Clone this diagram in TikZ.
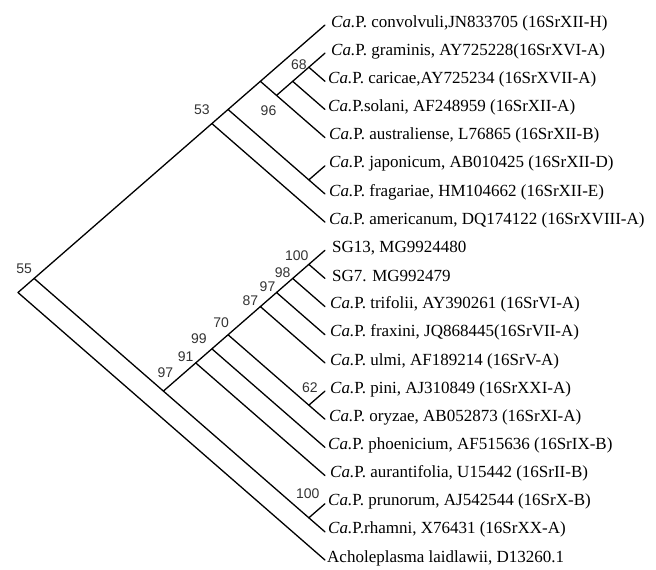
\documentclass[tikz,border=0pt]{standalone}
\usepackage{fontspec}
\setmainfont{Liberation Serif}
\newfontfamily\bsfont{Liberation Sans}
\usetikzlibrary{calc,positioning}
\newcommand{\CaP}{\textit{Ca.}P.}

\begin{document}
\begin{tikzpicture}[x=1pt,y=-1pt,
    branch/.style={line width=1.3pt,line cap=round,line join=round},
    leaf/.style={anchor=west,inner sep=0pt,font=\fontsize{17}{18}\selectfont},
    boot/.style={inner sep=0pt,text=black!80,font=\bsfont\fontsize{14}{14}\selectfont}]
  \def\tx{325}
  \def\ty{25}
  \def\dy{28.16}
  \def\hx{16.16}
  \useasboundingbox (0,0) rectangle (656,570);
  % tips
  \coordinate (t1) at (\tx,{\ty+0*\dy});
  \coordinate (t2) at (\tx,{\ty+1*\dy});
  \coordinate (t3) at (\tx,{\ty+2*\dy});
  \coordinate (t4) at (\tx,{\ty+3*\dy});
  \coordinate (t5) at (\tx,{\ty+4*\dy});
  \coordinate (t6) at (\tx,{\ty+5*\dy});
  \coordinate (t7) at (\tx,{\ty+6*\dy});
  \coordinate (t8) at (\tx,{\ty+7*\dy});
  \coordinate (t9) at (\tx,{\ty+8*\dy});
  \coordinate (t10) at (\tx,{\ty+9*\dy});
  \coordinate (t11) at (\tx,{\ty+10*\dy});
  \coordinate (t12) at (\tx,{\ty+11*\dy});
  \coordinate (t13) at (\tx,{\ty+12*\dy});
  \coordinate (t14) at (\tx,{\ty+13*\dy});
  \coordinate (t15) at (\tx,{\ty+14*\dy});
  \coordinate (t16) at (\tx,{\ty+15*\dy});
  \coordinate (t17) at (\tx,{\ty+16*\dy});
  \coordinate (t18) at (\tx,{\ty+17*\dy});
  \coordinate (t19) at (\tx,{\ty+18*\dy});
  \coordinate (t20) at (\tx,{\ty+19*\dy});
  % taxa
  \node[leaf] (l1) at ($(t1)+(6,-2)$) {\CaP\ convolvuli,JN833705 (16SrXII-H)};
  \node[leaf] (l2) at ($(t2)+(6,-2)$) {\CaP\ graminis, AY725228(16SrXVI-A)};
  \node[leaf] (l3) at ($(t3)+(3,-2)$) {\CaP\ caricae,AY725234 (16SrXVII-A)};
  \node[leaf] (l4) at ($(t4)+(3,-2)$) {\CaP solani, AF248959 (16SrXII-A)};
  \node[leaf] (l5) at ($(t5)+(4,-2)$) {\CaP\ australiense, L76865 (16SrXII-B)};
  \node[leaf] (l6) at ($(t6)+(4,-2)$) {\CaP\ japonicum, AB010425 (16SrXII-D)};
  \node[leaf] (l7) at ($(t7)+(4,-2)$) {\CaP\ fragariae, HM104662 (16SrXII-E)};
  \node[leaf] (l8) at ($(t8)+(4,-2)$) {\CaP\ americanum, DQ174122 (16SrXVIII-A)};
  \node[leaf] (l9) at ($(t9)+(7,-2)$) {SG13, MG9924480};
  \node[leaf] (l10) at ($(t10)+(7,-2)$) {SG7. MG992479};
  \node[leaf] (l11) at ($(t11)+(5,-2)$) {\CaP\ trifolii, AY390261 (16SrVI-A)};
  \node[leaf] (l12) at ($(t12)+(5,-2)$) {\CaP\ fraxini, JQ868445(16SrVII-A)};
  \node[leaf] (l13) at ($(t13)+(5,-2)$) {\CaP\ ulmi, AF189214 (16SrV-A)};
  \node[leaf] (l14) at ($(t14)+(5,-2)$) {\CaP\ pini, AJ310849 (16SrXXI-A)};
  \node[leaf] (l15) at ($(t15)+(4,-2)$) {\CaP\ oryzae, AB052873 (16SrXI-A)};
  \node[leaf] (l16) at ($(t16)+(3,-2)$) {\CaP\ phoenicium, AF515636 (16SrIX-B)};
  \node[leaf] (l17) at ($(t17)+(5,-2)$) {\CaP\ aurantifolia, U15442 (16SrII-B)};
  \node[leaf] (l18) at ($(t18)+(3,-2)$) {\CaP\ prunorum, AJ542544 (16SrX-B)};
  \node[leaf] (l19) at ($(t19)+(3,-2)$) {\CaP rhamni, X76431 (16SrXX-A)};
  \node[leaf] (l20) at ($(t20)+(2,-2)$) {Acholeplasma laidlawii, D13260.1};
  % internal nodes
  \coordinate (root) at ({\tx-19*\hx},{\ty+19*\dy/2});
  \coordinate (n55) at ({\tx-18*\hx},{\ty+18*\dy/2});
  \coordinate (n53) at ({\tx-7*\hx},{\ty+7*\dy/2});
  \coordinate (c17) at ({\tx-6*\hx},{\ty+6*\dy/2});
  \coordinate (c15) at ({\tx-4*\hx},{\ty+4*\dy/2});
  \coordinate (n96) at ({\tx-3*\hx},{\ty+5*\dy/2});
  \coordinate (c24) at ({\tx-2*\hx},{\ty+4*\dy/2});
  \coordinate (n68) at ({\tx-1*\hx},{\ty+3*\dy/2});
  \coordinate (c67) at ({\tx-1*\hx},{\ty+11*\dy/2});
  \coordinate (n97a) at ({\tx-10*\hx},{\ty+26*\dy/2});
  \coordinate (n91) at ({\tx-8*\hx},{\ty+24*\dy/2});
  \coordinate (n99) at ({\tx-7*\hx},{\ty+23*\dy/2});
  \coordinate (n70) at ({\tx-6*\hx},{\ty+22*\dy/2});
  \coordinate (n87) at ({\tx-4*\hx},{\ty+20*\dy/2});
  \coordinate (n97b) at ({\tx-3*\hx},{\ty+19*\dy/2});
  \coordinate (n98) at ({\tx-2*\hx},{\ty+18*\dy/2});
  \coordinate (n100a) at ({\tx-1*\hx},{\ty+17*\dy/2});
  \coordinate (n62) at ({\tx-1*\hx},{\ty+27*\dy/2});
  \coordinate (n100b) at ({\tx-1*\hx},{\ty+35*\dy/2});
  % branches
  \draw[branch] (root) -- (n55) (root) -- (t20);
  \draw[branch] (n55) -- (n53) (n55) -- (n97a);
  \draw[branch] (n53) -- (c17) (n53) -- (t8);
  \draw[branch] (c17) -- (c15) (c17) -- (c67);
  \draw[branch] (c15) -- (t1) (c15) -- (n96);
  \draw[branch] (n96) -- (c24) (n96) -- (t5);
  \draw[branch] (c24) -- (n68) (c24) -- (t4);
  \draw[branch] (n68) -- (t2) (n68) -- (t3);
  \draw[branch] (c67) -- (t6) (c67) -- (t7);
  \draw[branch] (n97a) -- (n91) (n97a) -- (n100b);
  \draw[branch] (n91) -- (n99) (n91) -- (t17);
  \draw[branch] (n99) -- (n70) (n99) -- (t16);
  \draw[branch] (n70) -- (n87) (n70) -- (n62);
  \draw[branch] (n87) -- (n97b) (n87) -- (t13);
  \draw[branch] (n97b) -- (n98) (n97b) -- (t12);
  \draw[branch] (n98) -- (n100a) (n98) -- (t11);
  \draw[branch] (n100a) -- (t9) (n100a) -- (t10);
  \draw[branch] (n62) -- (t14) (n62) -- (t15);
  \draw[branch] (n100b) -- (t18) (n100b) -- (t19);
  % bootstrap values
  \node[boot] (b55) at ($(n55)+(-10,-10)$) {55};
  \node[boot] (b53) at ($(n53)+(-10,-14)$) {53};
  \node[boot] (b68) at ($(n68)+(-10,-3)$) {68};
  \node[boot] (b96) at ($(n96)+(-8,15)$) {96};
  \node[boot] (b100a) at ($(n100a)+(-12,-9)$) {100};
  \node[boot] (b98) at ($(n98)+(-10,-6)$) {98};
  \node[boot] (b97b) at ($(n97b)+(-9,-6)$) {97};
  \node[boot] (b87) at ($(n87)+(-10,-6)$) {87};
  \node[boot] (b70) at ($(n70)+(-7,-12)$) {70};
  \node[boot] (b99) at ($(n99)+(-13,-10)$) {99};
  \node[boot] (b91) at ($(n91)+(-10,-6)$) {91};
  \node[boot] (b97a) at ($(n97a)+(2,-18)$) {97};
  \node[boot] (b62) at ($(n62)+(1,-17)$) {62};
  \node[boot] (b100b) at ($(n100b)+(-1,-24)$) {100};
\end{tikzpicture}
\end{document}
